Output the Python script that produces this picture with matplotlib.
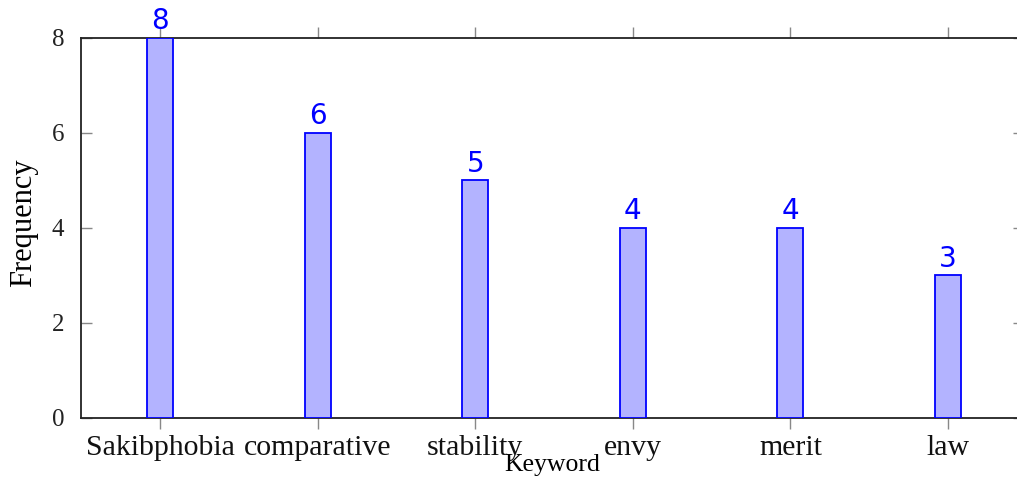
import matplotlib
matplotlib.use("Agg")
import matplotlib.pyplot as plt

keywords = ['Sakibphobia', 'comparative', 'stability', 'envy', 'merit', 'law']
frequency = [8, 6, 5, 4, 4, 3]
yticks = [0, 2, 4, 6, 8]

fig = plt.figure(figsize=(10.17, 4.84), dpi=100)
ax = fig.add_axes([0.0796, 0.1364, 0.927, 0.7851])

xs = list(range(len(keywords)))
barras = ax.bar(xs, frequency, width=0.165, color='#b3b3ff', edgecolor='blue', linewidth=1.3, zorder=3)
ax.bar_label(barras, labels=[str(v) for v in frequency], padding=2, color='blue',
             fontsize=20, family='DejaVu Sans', clip_on=False)

ax.set_xlim(-0.502, 5.48)
ax.set_ylim(0, 8)
ax.set_xticks(xs)
ax.set_xticklabels(keywords, family='Liberation Serif', fontsize=21.5, color='#111111')
ax.set_yticks(yticks)
ax.set_yticklabels([str(v) for v in yticks], family='Liberation Serif', fontsize=18, color='#222222')

ax.tick_params(axis='x', direction='out', length=8, width=1, color='#888888', top=True, pad=4)
ax.tick_params(axis='y', direction='in', length=8, width=1, color='#888888', right=True, pad=12)

for lado in ['left', 'bottom', 'top', 'right']:
    ax.spines[lado].set_linewidth(1.3)
    ax.spines[lado].set_color('#222222')

ax.set_xlabel('Keyword', family='Liberation Serif', fontsize=18.5)
ax.xaxis.set_label_coords(0.5, -0.095)
ax.set_ylabel('Frequency', family='Liberation Serif', fontsize=22)
ax.yaxis.set_label_coords(-0.046, 0.515)

fig.savefig('out.png', dpi=100)
